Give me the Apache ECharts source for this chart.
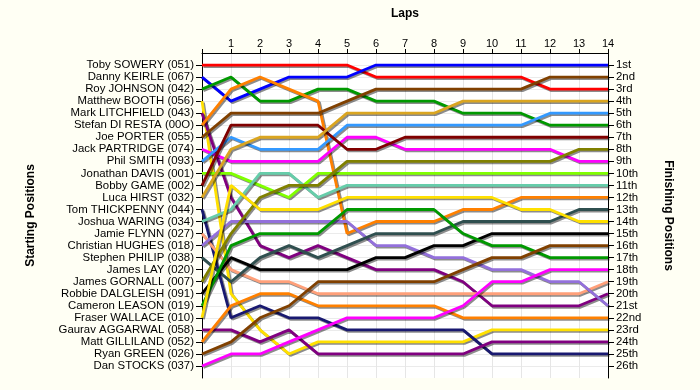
<!DOCTYPE html>
<html><head><meta charset="utf-8">
<script src="https://cdn.jsdelivr.net/npm/echarts@6/dist/echarts.min.js"></script>
<style>html,body{margin:0;padding:0;background:#fffff4;}#c{width:700px;height:390px;}</style>
</head><body><div id="c"></div>
<script>
const laps = [0,1,2,3,4,5,6,7,8,9,10,11,12,13,14];
const startLabels = ['Toby SOWERY (051)','Danny KEIRLE (067)','Roy JOHNSON (042)','Matthew BOOTH (056)','Mark LITCHFIELD (043)','Stefan DI RESTA (00O)','Joe PORTER (055)','Jack PARTRIDGE (074)','Phil SMITH (093)','Jonathan DAVIS (001)','Bobby GAME (002)','Luca HIRST (032)','Tom THICKPENNY (044)','Joshua WARING (034)','Jamie FLYNN (027)','Christian HUGHES (018)','Stephen PHILIP (038)','James LAY (020)','James GORNALL (007)','Robbie DALGLEISH (091)','Cameron LEASON (019)','Fraser WALLACE (010)','Gaurav AGGARWAL (058)','Matt GILLILAND (052)','Ryan GREEN (026)','Dan STOCKS (037)'];
const finishLabels = ['1st','2nd','3rd','4th','5th','6th','7th','8th','9th','10th','11th','12th','13th','14th','15th','16th','17th','18th','19th','20th','21st','22nd','23rd','24th','25th','26th'];

// position of each driver at the end of each lap (lap 0 = grid)
const sowery     = [1,1,1,1,1,1,2,2,2,2,2,2,3,3,3];
const keirle     = [2,4,3,2,2,2,1,1,1,1,1,1,1,1,1];
const johnson    = [3,2,4,4,3,3,4,4,4,5,5,5,6,6,6];
const booth      = [4,20,23,25,24,24,24,24,24,24,23,23,23,23,23];
const litchfield = [5,12,16,17,16,17,18,18,18,19,21,21,21,21,20];
const diresta    = [6,3,2,3,4,15,14,14,14,13,13,12,12,12,12];
const porter     = [7,5,5,5,5,4,3,3,3,3,3,3,2,2,2];
const partridge  = [8,9,9,9,9,7,7,8,8,8,8,8,8,9,9];
const smith      = [9,7,8,8,8,6,6,6,6,6,6,6,5,5,5];
const davis      = [10,10,11,12,10,10,10,10,10,10,10,10,10,10,10];
const game       = [11,6,6,6,6,8,8,7,7,7,7,7,7,7,7];
const hirst      = [12,8,7,7,7,5,5,5,5,4,4,4,4,4,4];
const thickpenny = [13,22,21,22,22,23,23,23,23,23,25,25,25,25,25];
const waring     = [14,13,10,10,12,11,11,11,11,11,11,11,11,11,11];
const flynn      = [15,18,19,19,20,20,20,20,20,20,20,20,20,20,19];
const hughes     = [16,14,14,14,14,14,16,16,17,17,18,18,19,19,21];
const philip     = [17,19,17,16,17,16,15,15,15,14,14,14,14,13,13];
const gornall    = [19,15,12,11,11,9,9,9,9,9,9,9,9,8,8];
const dalgleish  = [20,17,18,18,18,18,17,17,16,16,15,15,15,15,15];
const leason     = [21,16,15,15,15,13,13,13,13,15,16,16,17,17,17];
const wallace    = [22,11,13,13,13,12,12,12,12,12,12,13,13,14,14];
const aggarwal   = [23,23,24,23,25,25,25,25,25,25,24,24,24,24,24];
const gilliland  = [24,21,20,20,21,21,21,21,21,22,22,22,22,22,22];
const green      = [25,24,22,21,19,19,19,19,19,18,17,17,16,16,16];
const stocks     = [26,25,25,24,23,22,22,22,22,21,19,19,18,18,18];

const driverSeries = [sowery,keirle,johnson,booth,litchfield,diresta,porter,partridge,smith,davis,game,hirst,thickpenny,waring,flynn,hughes,philip,gornall,dalgleish,leason,wallace,aggarwal,gilliland,green,stocks];
const driverNames = ['Toby SOWERY','Danny KEIRLE','Roy JOHNSON','Matthew BOOTH','Mark LITCHFIELD','Stefan DI RESTA','Joe PORTER','Jack PARTRIDGE','Phil SMITH','Jonathan DAVIS','Bobby GAME','Luca HIRST','Tom THICKPENNY','Joshua WARING','Jamie FLYNN','Christian HUGHES','Stephen PHILIP','James GORNALL','Robbie DALGLEISH','Cameron LEASON','Fraser WALLACE','Gaurav AGGARWAL','Matt GILLILAND','Ryan GREEN','Dan STOCKS'];
const colors = ['#ff0000','#0000ff','#009900','#ffe000','#800080','#ff8000','#804000','#ff00ff','#3399ff','#80ff00','#800000','#daa520','#191970','#66cdaa','#ffa07a','#9370db','#2f4f4f','#808000','#000000','#009900','#ffe000','#800080','#ff8000','#804000','#ff00ff'];

const rows = Array.from({length:26},(_,i)=>i+1);
const font = 'Arial, "Liberation Sans", sans-serif';

const series = driverSeries.map((arr,i)=>({
  name: driverNames[i], type:'line', xAxisIndex:0, yAxisIndex:0,
  data: laps.map((l,j)=>[l,arr[j]]),
  symbol:'none', animation:false, silent:true,
  lineStyle:{color:colors[i], width:2.8, shadowColor:'rgba(0,0,0,0.45)', shadowOffsetX:1.5, shadowOffsetY:1.5, shadowBlur:0},
  z: 2
}));

const yBase = {
  type:'value', min:0, max:27, interval:1, inverse:true,
  axisLine:{show:true, lineStyle:{color:'#000', width:1}},
  axisTick:{show:true, length:6, customValues:rows, lineStyle:{color:'#000'}},
  splitLine:{show:true, lineStyle:{color:'#ebebeb', width:1}},
  nameLocation:'middle',
  nameTextStyle:{fontFamily:font, fontWeight:'bold', fontSize:12, color:'#000'}
};

const chart = echarts.init(document.getElementById('c'), null, {renderer:'canvas'});
chart.setOption({
  backgroundColor:'#fffff4',
  animation:false,
  grid:{left:202, right:92, top:53, bottom:12, show:true, backgroundColor:'#ffffff', borderWidth:0},
  xAxis:{
    type:'value', position:'top', min:0, max:14, interval:1,
    name:'Laps', nameLocation:'middle', nameGap:33,
    nameTextStyle:{fontFamily:font, fontWeight:'bold', fontSize:12, color:'#000'},
    axisLine:{show:true, lineStyle:{color:'#000', width:1}},
    axisTick:{show:true, length:4, lineStyle:{color:'#000'}},
    axisLabel:{fontFamily:font, fontSize:11, color:'#000', margin:4, formatter:v=> v===0 ? '' : String(v)},
    splitLine:{show:true, lineStyle:{color:'#e6e6e6', width:1}}
  },
  yAxis:[
    Object.assign({}, yBase, {
      position:'left', name:'Starting Positions', nameGap:165, nameRotate:90,
      axisLabel:{fontFamily:font, fontSize:11.4, color:'#000', margin:8, customValues:rows,
        formatter:v=> (v>=1 && v<=26) ? startLabels[v-1] : ''}
    }),
    Object.assign({}, yBase, {
      position:'right', name:'Finishing Positions', nameGap:54, nameRotate:-90,
      splitLine:{show:false},
      axisLabel:{fontFamily:font, fontSize:11.4, color:'#000', margin:8, customValues:rows,
        formatter:v=> (v>=1 && v<=26) ? finishLabels[v-1] : ''}
    })
  ],
  series: series
});
</script></body></html>
